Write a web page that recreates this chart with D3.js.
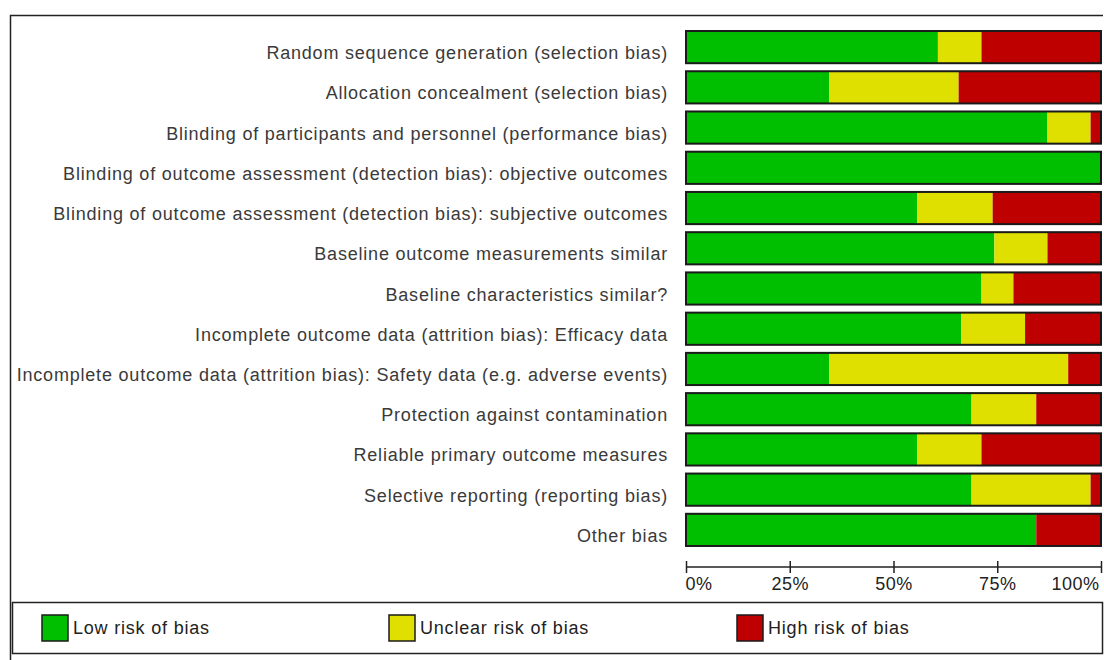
<!DOCTYPE html>
<meta charset="utf-8">
<html>
<head>
<title>Risk of bias graph</title>
<script src="https://d3js.org/d3.v7.min.js"></script>
<style>
  body { margin: 0; background: #fff; }
  text { font-family: "Liberation Sans", Arial, sans-serif; }
  .label { font-size: 18px; fill: #3a3a3a; letter-spacing: 0.8px; }
  .axis text { font-size: 18px; fill: #222; letter-spacing: 0.5px; }
  .legend text { font-size: 18px; fill: #222; letter-spacing: 0.8px; }
</style>
</head>
<body>
<svg width="1104" height="660"></svg>
<script>
// ---- data (percent of studies) ----
var domains = [
  "Random sequence generation (selection bias)",
  "Allocation concealment (selection bias)",
  "Blinding of participants and personnel (performance bias)",
  "Blinding of outcome assessment (detection bias): objective outcomes",
  "Blinding of outcome assessment (detection bias): subjective outcomes",
  "Baseline outcome measurements similar",
  "Baseline characteristics similar?",
  "Incomplete outcome data (attrition bias): Efficacy data",
  "Incomplete outcome data (attrition bias): Safety data (e.g. adverse events)",
  "Protection against contamination",
  "Reliable primary outcome measures",
  "Selective reporting (reporting bias)",
  "Other bias"
];
var lowRisk     = [60.7, 34.5, 87.1, 100, 55.7, 74.3, 71.2, 66.3, 34.5, 68.8, 55.7, 68.8, 84.4];
var unclearRisk = [10.5, 31.2, 10.4,   0, 18.2, 12.8,  7.7, 15.4, 57.6, 15.6, 15.5, 28.7,  0];
var highRisk    = [28.8, 34.3,  2.5,   0, 26.1, 12.9, 21.1, 18.3,  7.9, 15.6, 28.8,  2.5, 15.6];
var categories  = ["Low risk of bias", "Unclear risk of bias", "High risk of bias"];
var tickValues  = [0, 25, 50, 75, 100];

var colors = ["#00bf00", "#dfdf00", "#bf0000"];

var svg = d3.select("svg");

// outer frame (top + left edges only visible)
svg.append("path")
    .attr("d", "M10.5,661 V15.5 H1103")
    .attr("fill", "none")
    .attr("stroke", "#222")
    .attr("stroke-width", 1.5);

var x = d3.scaleLinear().domain([0, 100]).range([686, 1101]);
var y = d3.scaleBand().domain(domains).range([27, 550]).paddingInner(0.2).paddingOuter(0.1);

// build stacked rows
var rows = domains.map(function(d, i) {
  return { name: d, values: [lowRisk[i], unclearRisk[i], highRisk[i]] };
});
var stack = d3.stack().keys([0, 1, 2]).value(function(d, k) { return d.values[k]; });
var series = stack(rows);

// labels
svg.append("g").selectAll("text")
  .data(domains)
  .enter().append("text")
    .attr("class", "label")
    .attr("x", 668)
    .attr("y", function(d) { return y(d) + y.bandwidth() / 2 + 12; })
    .attr("text-anchor", "end")
    .text(function(d) { return d; });

// segments
svg.append("g").selectAll("g")
  .data(series)
  .enter().append("g")
    .attr("fill", function(s, i) { return colors[i]; })
  .selectAll("rect")
  .data(function(s) { return s; })
  .enter().append("rect")
    .attr("x", function(d) { return x(d[0]); })
    .attr("y", function(d) { return y(d.data.name); })
    .attr("width", function(d) { return Math.max(0, x(d[1]) - x(d[0])); })
    .attr("height", y.bandwidth());

// bar outlines
svg.append("g").selectAll("rect")
  .data(domains)
  .enter().append("rect")
    .attr("x", x(0))
    .attr("y", function(d) { return y(d); })
    .attr("width", x(100) - x(0))
    .attr("height", y.bandwidth())
    .attr("fill", "none")
    .attr("stroke", "#1a1a1a")
    .attr("stroke-width", 2);

// axis
var axis = svg.append("g")
    .attr("class", "axis")
    .attr("transform", "translate(0,567)")
    .call(d3.axisBottom(x).tickValues(tickValues).tickSize(6).tickFormat(function(d) { return d + "%"; }));
axis.select(".domain").attr("d", "M" + x(0) + ",0H" + x(100)).attr("stroke", "#222").attr("stroke-width", 1.5);
axis.selectAll(".tick line").attr("y1", -6).attr("y2", 6).attr("stroke", "#222").attr("stroke-width", 1.5);
axis.selectAll(".tick text")
    .attr("y", 10)
    .attr("text-anchor", function(d) { return d === 0 ? "start" : d === 100 ? "end" : "middle"; })
    .attr("dx", function(d) { return d === 0 ? -1 : d === 100 ? -2 : 0; });

// legend
var legend = svg.append("g").attr("class", "legend");
legend.append("rect")
    .attr("x", 12.5).attr("y", 602.5)
    .attr("width", 1090).attr("height", 51)
    .attr("fill", "#fff").attr("stroke", "#222").attr("stroke-width", 1.5);

var legendX = [42, 389, 737];
var item = legend.selectAll(".item")
  .data(categories)
  .enter().append("g")
    .attr("class", "item")
    .attr("transform", function(d, i) { return "translate(" + legendX[i] + ",615)"; });
item.append("rect")
    .attr("width", 26).attr("height", 26)
    .attr("fill", function(d, i) { return colors[i]; })
    .attr("stroke", "#1a1a1a").attr("stroke-width", 1.5);
item.append("text")
    .attr("x", 31)
    .attr("y", 13)
    .attr("dy", "0.35em")
    .text(function(d) { return d; });
</script>
</body>
</html>
